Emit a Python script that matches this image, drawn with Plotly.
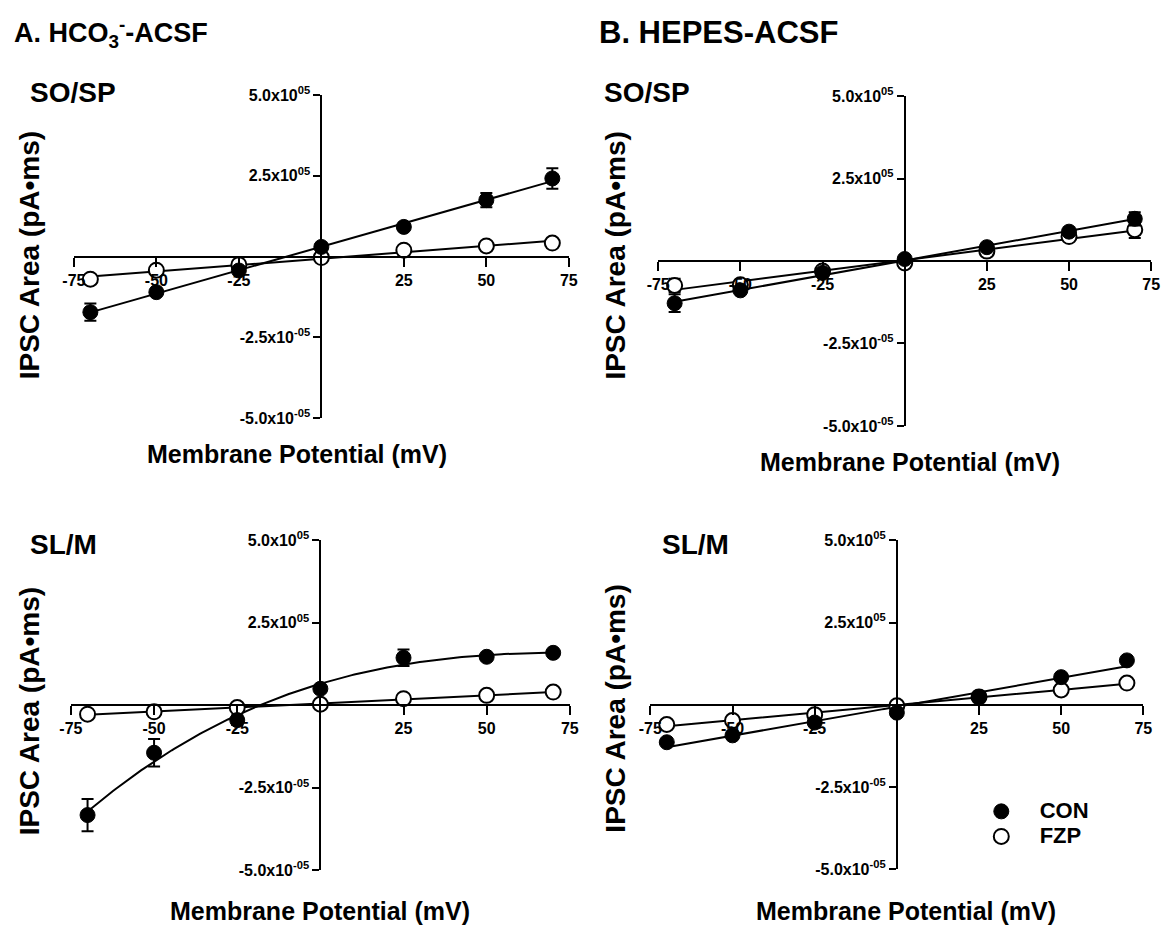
import numpy as np
import plotly.graph_objects as go

W, H = 1171, 931
FONT = "Liberation Sans, Arial, sans-serif"

# Data (membrane potential in mV, IPSC area in pA*ms)
voltage = [-70, -50, -25, 0, 25, 50, 70]

a_sosp_con = [-1.72e5, -1.10e5, -0.43e5, 0.30e5, 0.92e5, 1.75e5, 2.42e5]
a_sosp_con_err = [0.27e5, 0.0, 0.0, 0.0, 0.0, 0.22e5, 0.32e5]
a_sosp_fzp = [-0.70e5, -0.42e5, -0.25e5, -0.03e5, 0.20e5, 0.33e5, 0.42e5]
a_sosp_fzp_err = [0, 0, 0, 0, 0, 0, 0]

a_slm_con = [-3.33e5, -1.44e5, -0.45e5, 0.50e5, 1.44e5, 1.47e5, 1.59e5]
a_slm_con_err = [0.49e5, 0.42e5, 0.15e5, 0.0, 0.25e5, 0.0, 0.0]
a_slm_fzp = [-0.27e5, -0.20e5, -0.07e5, 0.03e5, 0.20e5, 0.30e5, 0.40e5]
a_slm_fzp_err = [0, 0, 0, 0, 0, 0, 0]

b_sosp_con = [-1.28e5, -0.89e5, -0.36e5, 0.06e5, 0.42e5, 0.89e5, 1.28e5]
b_sosp_con_err = [0.27e5, 0.0, 0.0, 0.0, 0.0, 0.0, 0.20e5]
b_sosp_fzp = [-0.74e5, -0.72e5, -0.30e5, -0.06e5, 0.30e5, 0.74e5, 0.95e5]
b_sosp_fzp_err = [0.20e5, 0.0, 0.0, 0.0, 0.0, 0.0, 0.25e5]

b_slm_con = [-1.14e5, -0.93e5, -0.54e5, -0.24e5, 0.24e5, 0.84e5, 1.35e5]
b_slm_con_err = [0, 0, 0, 0, 0, 0, 0]
b_slm_fzp = [-0.60e5, -0.48e5, -0.30e5, -0.03e5, 0.24e5, 0.45e5, 0.66e5]
b_slm_fzp_err = [0, 0, 0, 0, 0, 0, 0]

x_tickvals = [-75, -50, -25, 25, 50, 75]
x_ticktext = ["-75", "-50", "-25", "25", "50", "75"]
y_tickvals = [-5.0e5, -2.5e5, 2.5e5, 5.0e5]
y_ticktext = ["-5.0x10<sup>-05</sup>", "-2.5x10<sup>-05</sup>",
              "2.5x10<sup>05</sup>", "5.0x10<sup>05</sup>"]

# panel layout: (x-left px, x-right px, y-top px, y-bottom px)
panels = [
    dict(box=(63, 567, 86, 416), con=a_sosp_con, con_err=a_sosp_con_err,
         fzp=a_sosp_fzp, fzp_err=a_sosp_fzp_err, con_deg=1, fzp_deg=1),
    dict(box=(60, 568, 541, 878), con=a_slm_con, con_err=a_slm_con_err,
         fzp=a_slm_fzp, fzp_err=a_slm_fzp_err, con_deg=3, fzp_deg=1),
    dict(box=(658, 1160, 87, 424), con=b_sosp_con, con_err=b_sosp_con_err,
         fzp=b_sosp_fzp, fzp_err=b_sosp_fzp_err, con_deg=1, fzp_deg=1),
    dict(box=(650, 1152, 541, 877), con=b_slm_con, con_err=b_slm_con_err,
         fzp=b_slm_fzp, fzp_err=b_slm_fzp_err, con_deg=1, fzp_deg=1),
]

fig = go.Figure()
layout = {}
for i, p in enumerate(panels):
    n = "" if i == 0 else str(i + 1)
    xa, ya = "x" + n, "y" + n
    x0, x1, y0, y1 = p["box"]
    xdom = [x0 / W, x1 / W]
    ydom = [1 - y1 / H, 1 - y0 / H]
    layout["xaxis" + n] = dict(
        domain=xdom, range=[-75, 75], anchor="free", position=(ydom[0] + ydom[1]) / 2,
        tickvals=x_tickvals, ticktext=x_ticktext, ticks="outside", ticklen=9, tickwidth=2,
        tickcolor="black", showline=True, linewidth=2, linecolor="black",
        showgrid=False, zeroline=False,
        tickfont=dict(family=FONT, size=16, color="black", weight="bold"),
    )
    layout["yaxis" + n] = dict(
        domain=ydom, range=[-5e5, 5e5], anchor="free", position=(xdom[0] + xdom[1]) / 2,
        tickvals=y_tickvals, ticktext=y_ticktext, ticks="outside", ticklen=7, tickwidth=2,
        tickcolor="black", showline=True, linewidth=2, linecolor="black",
        showgrid=False, zeroline=False,
        tickfont=dict(family=FONT, size=16, color="black", weight="bold"),
    )
    xfit = np.linspace(min(voltage), max(voltage), 200)
    for key, deg in (("fzp", p["fzp_deg"]), ("con", p["con_deg"])):
        coef = np.polyfit(voltage, p[key], deg)
        fig.add_trace(go.Scatter(
            x=xfit, y=np.polyval(coef, xfit), mode="lines", xaxis=xa, yaxis=ya,
            line=dict(color="black", width=2), showlegend=False, hoverinfo="skip",
            cliponaxis=False))
    fig.add_trace(go.Scatter(
        x=voltage, y=p["fzp"], mode="markers", xaxis=xa, yaxis=ya,
        name="<span style='font-size:22px'>\u00a0\u00a0\u00a0FZP</span>",
        marker=dict(symbol="circle", size=15, color="white", line=dict(color="black", width=2)),
        error_y=dict(type="data", array=p["fzp_err"], color="black", thickness=2, width=6),
        showlegend=(i == 3), cliponaxis=False, legendrank=2))
    fig.add_trace(go.Scatter(
        x=voltage, y=p["con"], mode="markers", xaxis=xa, yaxis=ya,
        name="<span style='font-size:22px'>\u00a0\u00a0\u00a0CON</span>",
        marker=dict(symbol="circle", size=15, color="black", line=dict(color="black", width=1)),
        error_y=dict(type="data", array=p["con_err"], color="black", thickness=2, width=6),
        showlegend=(i == 3), cliponaxis=False, legendrank=1))

annotations = []


def txt(text, x, y, size, xanchor="left", angle=0):
    annotations.append(dict(
        text="<b>" + text + "</b>", x=x / W, y=1 - y / H, xref="paper", yref="paper",
        showarrow=False, xanchor=xanchor, yanchor="middle", textangle=angle,
        font=dict(family=FONT, size=size, color="black")))


txt("A. HCO<sub>3</sub><sup>-</sup>-ACSF", 0, 22, 27)
txt("B. HEPES-ACSF", 596, 22, 31)
txt("SO/SP", 16, 83, 28)
txt("SO/SP", 601, 83, 28)
txt("SL/M", 16, 545, 28)
txt("SL/M", 660, 545, 28)
for (cx, cy) in [(18, 250), (18, 716), (615, 250), (615, 713)]:
    txt("IPSC Area (pA•ms)", cx, cy, 28, xanchor="center", angle=-90)
for (cx, cy) in [(290, 453), (314, 920), (914, 461), (910, 920)]:
    txt("Membrane Potential (mV)", cx, cy, 25, xanchor="center")

fig.update_layout(
    **layout,
    width=W, height=H, margin=dict(l=0, r=0, t=0, b=0),
    paper_bgcolor="white", plot_bgcolor="white",
    annotations=annotations,
    legend=dict(x=987 / W, y=1 - 800 / H, xanchor="left", yanchor="top",
                font=dict(family=FONT, size=17, color="black", weight="bold"),
                bgcolor="rgba(0,0,0,0)", itemwidth=30, tracegroupgap=0),
    showlegend=True,
)

fig.write_html("out.html", config={"displayModeBar": False},
               post_script="document.body.style.margin='0px';")
